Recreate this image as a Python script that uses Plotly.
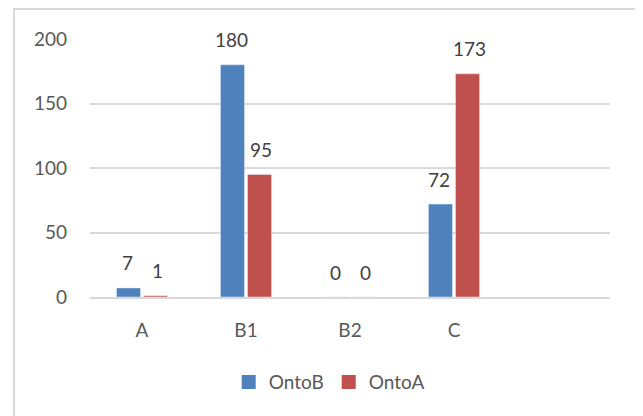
import plotly.graph_objects as go

categories = ["A", "B1", "B2", "C", " "]
onto_b = [7, 180, 0, 72, None]
onto_a = [1, 95, 0, 173, None]
series_names = ["OntoB", "OntoA"]
y_ticks = [0, 50, 100, 150, 200]

BLUE = "#4F81BD"
RED = "#C0504D"
FONT = "Lato"
FS = 19

# page offset compensation (body margin)
OFF = 8
L, T, PW, PH = 90 - OFF, 39 - OFF, 520, 258

fig = go.Figure()
fig.add_bar(x=categories, y=onto_b, name=series_names[0], marker_color=BLUE, showlegend=False)
fig.add_bar(x=categories, y=onto_a, name=series_names[1], marker_color=RED, showlegend=False)
# legend entries with square swatches
for nm, col in zip(series_names, (BLUE, RED)):
    fig.add_scatter(x=[None], y=[None], mode="markers", name=nm,
                    marker=dict(symbol="square", size=14, color=col))

annotations = []
for vals, shift in ((onto_b, -15), (onto_a, 15)):
    for c, v in zip(categories, vals):
        if v is None:
            continue
        annotations.append(dict(x=c, y=v, xref="x", yref="y", text=str(v), showarrow=False,
                                xshift=shift, yshift=25, yanchor="middle",
                                font=dict(family=FONT, size=FS, color="#404040")))

fig.update_layout(
    width=643, height=416,
    margin=dict(l=L, r=643 - L - PW, t=T, b=416 - T - PH),
    paper_bgcolor="white", plot_bgcolor="white",
    barmode="group", bargap=0.48, bargroupgap=0.11,
    font=dict(family=FONT, size=FS, color="#595959"),
    showlegend=True,
    legend=dict(orientation="h", x=0.46, xanchor="center", y=-0.33, yanchor="middle",
                font=dict(family=FONT, size=FS, color="#595959"), itemwidth=30,
                itemsizing="trace", traceorder="normal"),
    annotations=annotations,
    shapes=[dict(type="rect", xref="paper", yref="paper",
                 x0=(14 - 90) / 520, x1=(639 - 90) / 520,
                 y0=(297 - 440) / 258, y1=(297 - 9) / 258,
                 line=dict(color="#d9d9d9", width=2), layer="below")],
)
fig.update_xaxes(type="category", categoryorder="array", categoryarray=categories,
                 range=[-0.5, 4.5], showgrid=False, showline=True, linecolor="#d9d9d9",
                 linewidth=2, ticks="", ticklabelstandoff=15,
                 tickfont=dict(family=FONT, size=FS, color="#595959"))
fig.update_yaxes(range=[0, 200], tickvals=y_ticks, showgrid=True, gridcolor="#d9d9d9",
                 gridwidth=2, zeroline=False, showline=False, ticks="", ticklabelstandoff=22,
                 tickfont=dict(family=FONT, size=FS, color="#595959"))

fig.write_html("out.html")
